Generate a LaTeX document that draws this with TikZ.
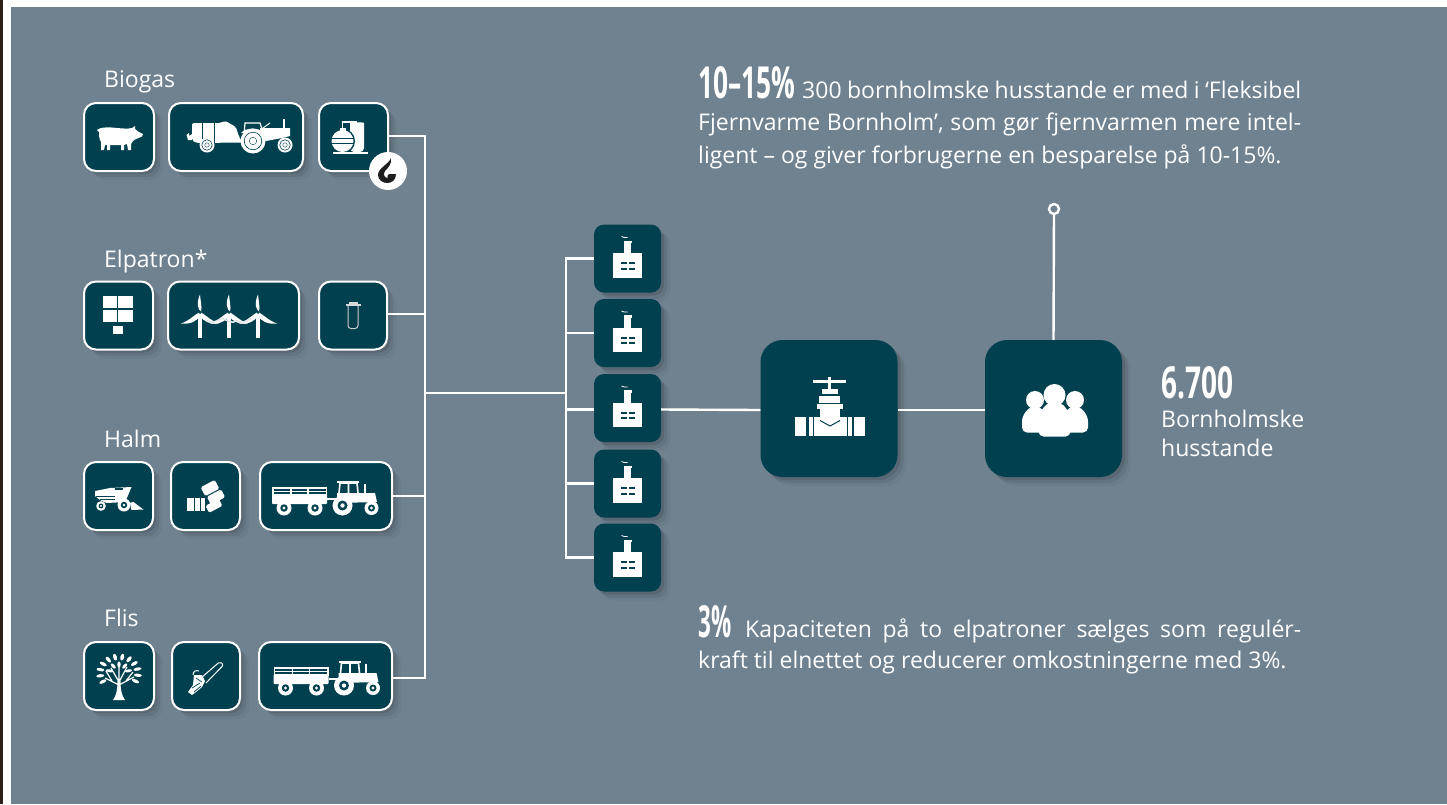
\documentclass[tikz,border=0pt]{standalone}
\usepackage{fontspec}
\usepackage{tikz}
\usetikzlibrary{shadows}
\setmainfont{Open Sans}

\definecolor{panelbg}{HTML}{708290}
\definecolor{boxteal}{HTML}{00404F}
\definecolor{stripdark}{HTML}{2A2116}
\definecolor{flamedark}{HTML}{1E1E1E}

\newcommand{\bignum}[3]{\resizebox{#1pt}{#2pt}{\bfseries #3}}
\newcommand{\iconwheel}[3]{
  \fill[white] (#1,#2) circle (#3pt);
  \fill[boxteal] (#1,#2) circle (#3*0.5pt);
  \fill[white] (#1,#2) circle (#3*0.22pt);
}
\newcommand{\ringwheel}[3]{
  \fill[white] (#1,#2) circle (#3pt);
  \draw[boxteal,line width=.6pt] (#1,#2) circle (#3*0.7pt);
  \draw[boxteal,line width=.4pt] (#1,#2) circle (#3*0.3pt);
}

\tikzset{
  softshadow/.style={
    drop shadow={shadow xshift=9pt,shadow yshift=-9pt,fill=black,opacity=.04},
    drop shadow={shadow xshift=6pt,shadow yshift=-6pt,fill=black,opacity=.07},
    drop shadow={shadow xshift=3pt,shadow yshift=-3pt,fill=black,opacity=.10}},
  srcbox/.style={rectangle,rounded corners=12pt,draw=white,line width=2pt,fill=boxteal,
    minimum height=68pt,inner sep=0pt,softshadow},
  facbox/.style={rectangle,rounded corners=10pt,fill=boxteal,minimum width=67pt,
    minimum height=68pt,inner sep=0pt,softshadow},
  bigbox/.style={rectangle,rounded corners=22pt,fill=boxteal,minimum width=137pt,
    minimum height=137pt,inner sep=0pt,softshadow},
  wire/.style={draw=white,line width=2.4pt},
  grouplabel/.style={anchor=base west,inner sep=0pt,text=white,font=\fontsize{23}{27}\selectfont},
  bodytext/.style={anchor=base west,inner sep=0pt,text=white,font=\fontsize{23}{28}\selectfont},
  pigicon/.pic={
    \fill[white] (-22,-7) .. controls (-19,-10) and (-10,-10) .. (-2,-9) .. controls (4,-8.5) and (9,-8) .. (13,-9)
      -- (16,-11) -- (16,-8) .. controls (18,-6) and (21,-4) .. (24,-3) -- (23,-.5)
      .. controls (20,1) and (16,2) .. (14,4) -- (12,7) -- (12,13) -- (9,13) -- (8,7) -- (5,8) -- (5,13) -- (2,13)
      -- (2,8) -- (-9,8) -- (-9,13) -- (-12,13) -- (-12,8) -- (-14,8) -- (-15,13) -- (-18,13) -- (-18,5)
      .. controls (-20,2) and (-20,-2) .. (-20,-5) -- cycle;
  },
  slurryicon/.pic={
    \fill[white,rounded corners=2pt] (-44,-14) -- (-15,-14) -- (-11,-16.5) -- (-7,-14) -- (0,-10) -- (3,0) -- (7,5.5) -- (-40,6) -- (-44,3) -- cycle;
    \fill[white] (-44,-3) -- (-47,-1) -- (-47,-4) -- (-49.5,-2) -- (-48,3) -- (-44,3) -- cycle;
    \draw[boxteal,line width=.7pt] (-34,-14) -- (-34,6) (-22,-14) -- (-22,6);
    \ringwheel{-29}{8}{7.5}
    \fill[white] (24,-9) -- (54,-9) -- (54,-1) -- (46,1) -- (30,4) -- (24,0) -- cycle;
    \draw[white,line width=1.2pt] (8,-2) -- (9,-14) -- (24,-14) -- (26,-8);
    \fill[white] (5,-4) .. controls (10,-10) and (24,-10) .. (29,-3) -- cycle;
    \draw[white,line width=1pt] (27,-9) -- (34,-14);
    \draw[white,line width=1.5pt] (48,-18) -- (48,-9);
    \ringwheel{17}{4}{12.5}
    \ringwheel{49}{8}{7.5}
  },
  planticon/.pic={
    \fill[white,rounded corners=4pt] (-3.5,15) -- (-3.5,-10) .. controls (-3.5,-15) and (10.5,-15) .. (10.5,-10) -- (10.5,15) -- cycle;
    \draw[white,line width=1.2pt] (-11,-8) -- (-11,-15) -- (3,-15) -- (3,-12);
    \fill[boxteal] (-11,4) circle (12.5pt);
    \fill[white] (-11,4) circle (11pt);
    \fill[white] (-14,-9) rectangle (-8,-5);
    \draw[boxteal,line width=1pt] (-22,1.5) -- (0,1.5) (-22,6) -- (0,6);
    \fill[white] (-21,15) rectangle (14.5,17);
  },
  flameicon/.pic={
    \fill[white] (0,0) circle (19pt);
    \fill[flamedark] (3,-13) .. controls (1,-7) and (-10,-3) .. (-10,4) .. controls (-10,9) and (-5,12) .. (-1,12)
      .. controls (4,12) and (8,9) .. (8,3) -- (1,3) .. controls (-1,4) and (-1,6) .. (0,7)
      .. controls (-4,7) and (-5,3) .. (-3,0) .. controls (0,-3) and (4,-7) .. (3,-13) -- cycle;
  },
  solaricon/.pic={
    \foreach \x in {-16,-0.5}
      \foreach \y in {-20,-6}
        \fill[white] (\x,\y) rectangle ++(14.6,12.6);
    \fill[white] (-5.5,10) rectangle (4.5,18);
  },
  windicon/.pic={
    \foreach \x in {-33.5,-4.5,24.5} {
      \fill[white] (\x-1.8,-2) -- (\x+1.8,-2) -- (\x+1.8,22) -- (\x-1.8,22) -- cycle;
      \fill[white] (\x,-21) .. controls (\x-4,-12) and (\x-2,-6) .. (\x+1,-4) -- (\x+1.5,-8) -- cycle;
      \fill[white] (\x+1,-3) .. controls (\x+5,-1) and (\x+12,6) .. (\x+19,8) .. controls (\x+10,9) and (\x+3,6) .. (\x,0) -- cycle;
      \fill[white] (\x-1,-3) .. controls (\x-5,-1) and (\x-12,6) .. (\x-19,8) .. controls (\x-10,9) and (\x-3,6) .. (\x,0) -- cycle;
    }
    \draw[white!80!panelbg,line width=1.6pt] (-27,5) .. controls (-22,9) and (-16,5) .. (-11,3) .. controls (-6,5) and (-1,9) .. (3,5)
      .. controls (8,9) and (14,5) .. (18,3);
  },
  tubeicon/.pic={
    \fill[white!85!black] (-7,-12) rectangle (8,-10);
    \fill[white!85!black] (-4,-14) rectangle (5,-12);
    \draw[white!80!black,line width=1pt,rounded corners=3pt] (-5,-10) -- (-5,13) -- (5,13) -- (5,-10);
  },
  combineicon/.pic={
    \fill[white] (-23.5,-5) -- (-8.5,-8) -- (13,-9) -- (8,3) -- (8,6) -- (-12,7) -- (-18.5,4) -- (-23.5,0) -- cycle;
    \draw[boxteal,line width=.8pt] (-23,0) -- (-4,0) (-19,3) -- (-4,3);
    \fill[boxteal] (-4,-8) rectangle (4,-6.5);
    \iconwheel{5.5}{9}{6.5}
    \iconwheel{-17.5}{10}{4.8}
    \fill[white] (11.5,6.7) -- (15,6) -- (25,13.5) -- (13,14) -- cycle;
  },
  baleicon/.pic={
    \fill[white] (-18.5,2) rectangle (-0.5,15);
    \draw[boxteal,line width=.8pt] (-11,2) -- (-11,15) (-5,2) -- (-5,15);
    \fill[white,rounded corners=1.5pt,rotate around={28:(4.5,-8)}] (-3.5,-13) rectangle (12.5,-3);
    \fill[white,rounded corners=1.5pt,rotate around={28:(10.5,1)}] (2.5,-3.5) rectangle (18.5,5.5);
    \fill[white,rounded corners=1.5pt,rotate around={28:(8,10)}] (1,6) rectangle (16,14);
  },
  trucktrailer/.pic={
    \foreach \y in {-9,-5.5}
      \fill[white] (-54,\y) rectangle (1,\y+1.6);
    \fill[white,rounded corners=1pt] (-54,-2) rectangle (1,8);
    \foreach \x in {-54,-36,-19,-0.5}
      \fill[white] (\x,-9) rectangle (\x+1.6,0);
    \iconwheel{-42}{12}{7.5}
    \iconwheel{-11}{12}{7.5}
    \draw[white,line width=1.5pt] (1,3) -- (10,3);
    \draw[white,line width=1.6pt] (13,-3) -- (14,-13) -- (31,-13) -- (32,-3) (22.5,-13) -- (22.5,-3);
    \fill[white] (11,-15) rectangle (33,-13);
    \fill[white] (11,-3) -- (49,-3) -- (51,6) -- (11,7) -- cycle;
    \fill[white] (37.5,-12) -- (39.5,-12) -- (39.5,-3) -- (37.5,-3) -- cycle;
    \iconwheel{16.5}{9.5}{10}
    \iconwheel{45.5}{12}{7}
  },
  treeicon/.pic={
    \fill[white] (-6,24) .. controls (-3,20) and (-1.5,14) .. (-1.5,5) -- (1.5,5) .. controls (1.5,14) and (3,20) .. (6,24) -- cycle;
    \draw[white,line width=1.2pt] (0,9) -- (-14,2) (0,9) -- (15,1) (0,6) -- (-8,-8) (0,6) -- (8,-9) (0,6) -- (0,-13)
      (-7,5) -- (-13,-5) (7,5) -- (14,-4);
    \foreach \a in {-30,-8,14,36,58,80,102,124,146,168,190,212}
      \fill[white,shift={(0,-3)},yscale=.85,rotate=\a] (19,0) ellipse (4pt and 1.9pt);
    \foreach \a in {15,55,90,125,165}
      \fill[white,shift={(0,-3)},yscale=.85,rotate=\a] (10,0) ellipse (3.6pt and 1.7pt);
  },
  sawicon/.pic={
    \draw[white,line width=1pt,rounded corners=2pt] (-5,2) -- (14,-14.5) -- (17.5,-11) -- (0,7);
    \draw[white,line width=1pt] (-13,-1) .. controls (-13,-5) and (-10,-6) .. (-7,-5);
    \fill[white] (-12,-1) -- (-4,-1) -- (-1,5) -- (-4,11) -- (-10,16) -- (-14,19) -- (-18,16) -- (-13,9) -- cycle;
    \draw[boxteal,line width=.7pt] (-14,12) -- (-6,7) (-12,16) -- (-5,10) (-10,2) -- (-4,6);
  },
  facicon/.pic={
    \fill[white] (-14.5,-5.5) rectangle (14.5,19);
    \fill[white] (-3.5,-17) rectangle (3.5,-5);
    \fill[white] (-4,-18) rectangle (4,-15.5);
    \draw[white,line width=.8pt] (-6,-22) -- (-3,-21) -- (0,-21);
    \foreach \x in {-6.5,1}
      \foreach \y in {3.5,9}
        \fill[boxteal] (\x,\y) rectangle ++(6,2.4);
  },
  valveicon/.pic={
    \fill[white] (-16,-29) rectangle (17,-25.5);
    \fill[white] (-1.5,-32) rectangle (1.5,-20);
    \fill[white] (-7,-20) rectangle (8.5,-15);
    \fill[white] (-10,-13) rectangle (11,-5.5);
    \fill[white] (-12,-4.5) rectangle (14,0.5);
    \fill[white] (-9,0.5) rectangle (11,12);
    \fill[white] (-20,8.5) rectangle (23,27.5);
    \fill[white] (-34,8.5) rectangle (-23,27.5);
    \fill[white] (25,8.5) rectangle (36,27.5);
    \fill[boxteal] (-16.5,8.5) rectangle (-15,27.5);
    \fill[boxteal] (17.5,8.5) rectangle (19,27.5);
    \draw[boxteal,line width=1pt] (-9,12) -- (1,17.5) -- (11,12);
  },
  peopleicon/.pic={
    \foreach \x in {-18.5,21.5} {
      \fill[white] (\x,-8.5) circle (9pt);
      \fill[white,rounded corners=5pt] (\x-13,24) -- (\x-13,8) -- (\x-5,-2) -- (\x+5,-2) -- (\x+13,8) -- (\x+13,24) -- cycle;
    }
    \fill[white] (1,-13.5) circle (11pt);
    \fill[white,rounded corners=5pt] (-15,28) -- (-15,6) -- (-6,-6) -- (8,-6) -- (17,6) -- (17,28) -- cycle;
  }
}

\begin{document}
\begin{tikzpicture}[x=1pt,y=-1pt]
  \useasboundingbox (0,0) rectangle (1447,804);
  \fill[white] (0,0) rectangle (1447,804);
  \fill[stripdark] (0,0) rectangle (3,804);
  \fill[panelbg] (11,7) rectangle (1447,804);

  \node[grouplabel] (biogas) at (104,87) {Biogas};
  \node[grouplabel] (elpatron) at (104,267) {Elpatron*};
  \node[grouplabel] (halm) at (104,447) {Halm};
  \node[grouplabel] (flis) at (104,626) {Flis};

  \coordinate (bus) at (425,393);
  \coordinate (rail) at (566,393);

  \node[srcbox,minimum width=70pt] (pig) at (119,137) {};
  \node[srcbox,minimum width=134pt] (slurry) at (236,137) {};
  \node[srcbox,minimum width=69pt] (plant) at (353.5,137) {};
  \node[srcbox,minimum width=69pt] (solar) at (118.5,315.5) {};
  \node[srcbox,minimum width=131pt] (wind) at (233.5,315.5) {};
  \node[srcbox,minimum width=68pt] (tube) at (353,315.5) {};
  \node[srcbox,minimum width=69pt] (combine) at (118.5,496) {};
  \node[srcbox,minimum width=69pt] (bale) at (205.5,496) {};
  \node[srcbox,minimum width=132pt] (truckA) at (326,496) {};
  \node[srcbox,minimum width=70pt] (tree) at (119,676) {};
  \node[srcbox,minimum width=68pt] (saw) at (206,676) {};
  \node[srcbox,minimum width=133pt] (truckB) at (325.5,676) {};

  \foreach \n/\y in {1/258.5,2/333,3/408,4/483.5,5/557.5}
    \node[facbox] (fac\n) at (627.5,\y) {};
  \node[bigbox] (valve) at (829,408.5) {};
  \node[bigbox] (people) at (1053.5,408.5) {};

  \draw[wire] ([yshift=1pt]plant.east) -| (bus);
  \draw[wire] ([yshift=1.5pt]tube.east) -- ([yshift=1.5pt]tube.east -| bus);
  \draw[wire] (truckA.east) -- (truckA.east -| bus);
  \draw[wire] ([yshift=-2pt]truckB.east) -| (bus);
  \draw[wire] (bus) -- (rail);
  \draw[wire] (fac1.west) -| (rail);
  \draw[wire] (fac2.west) -- (fac2.west -| rail);
  \draw[wire] ([yshift=-1.5pt]fac3.west) -- ([yshift=-1.5pt]fac3.west -| rail);
  \draw[wire] (fac4.west) -- (fac4.west -| rail);
  \draw[wire] (fac5.west) -| (rail);
  \draw[wire] ([yshift=-1.5pt]fac3.east) -- ([yshift=-1.5pt]valve.west);
  \draw[wire] ([yshift=-1.5pt]valve.east) -- ([yshift=-1.5pt]people.west);
  \node[circle,draw=white,line width=2.4pt,minimum size=10pt,inner sep=0pt] (tip) at (1054,209) {};
  \draw[wire] (people.north) -- (tip);

  \path (pig.center) pic {pigicon};
  \path (slurry.center) pic {slurryicon};
  \path (plant.center) pic {planticon};
  \path (388,171) pic {flameicon};
  \path (solar.center) pic {solaricon};
  \path (wind.center) pic {windicon};
  \path (tube.center) pic {tubeicon};
  \path (combine.center) pic {combineicon};
  \path (bale.center) pic {baleicon};
  \path (truckA.center) pic {trucktrailer};
  \path (tree.center) pic {treeicon};
  \path (saw.center) pic {sawicon};
  \path ([xshift=2pt]truckB.center) pic {trucktrailer};
  \foreach \n in {1,...,5}
    \path (fac\n.center) pic {facicon};
  \path (valve.center) pic {valveicon};
  \path (people.center) pic {peopleicon};

  \node[bodytext] (numA) at (698,98) {\bignum{97}{32}{10--15\%}};
  \node[bodytext] (lineA) at (802,98) {\makebox[499pt][s]{300 bornholmske husstande er med i ‘Fleksibel}};
  \node[bodytext] (lineB) at (698,130) {\makebox[603pt][s]{Fjernvarme Bornholm’, som gør fjernvarmen mere intel-}};
  \node[bodytext] (lineC) at (698,163) {ligent – og giver forbrugerne en besparelse på 10-15\%.};

  \node[bodytext] (numB) at (1161,398) {\bignum{72}{32}{6.700}};
  \node[bodytext] (homesA) at (1161,427) {Bornholmske};
  \node[bodytext] (homesB) at (1161,456) {husstande};

  \node[bodytext] (numC) at (698,637) {\bignum{33}{32}{3\%}};
  \node[bodytext] (lineD) at (745,637) {\makebox[556pt][s]{Kapaciteten på to elpatroner sælges som regulér-}};
  \node[bodytext] (lineE) at (698,668) {kraft til elnettet og reducerer omkostningerne med 3\%.};
\end{tikzpicture}
\end{document}
